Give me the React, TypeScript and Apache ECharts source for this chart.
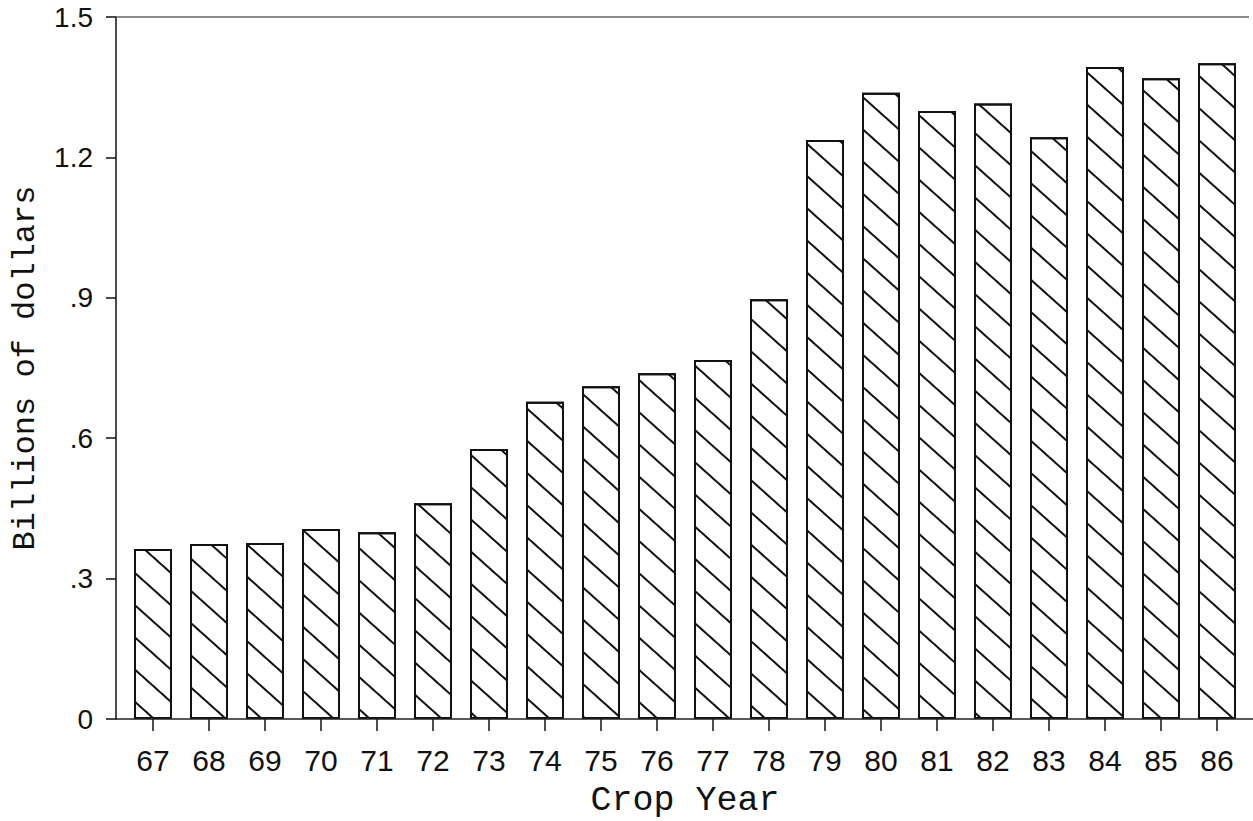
import React, { useEffect, useRef } from "react";
import * as echarts from "echarts";

const years = ["67", "68", "69", "70", "71", "72", "73", "74", "75", "76", "77", "78", "79", "80", "81", "82", "83", "84", "85", "86"];
const values = [0.363, 0.374, 0.376, 0.406, 0.399, 0.461, 0.577, 0.678, 0.711, 0.739, 0.767, 0.897, 1.237, 1.338, 1.299, 1.315, 1.243, 1.393, 1.369, 1.401];
const yMin = 0;
const yMax = 1.5;
const yStep = 0.3;
const xTitle = "Crop Year";
const yTitle = "Billions of dollars";

const W = 1253;
const H = 821;
const GRID_LEFT = 125;
const GRID_RIGHT = 8;
const GRID_TOP = 17;
const GRID_BOTTOM = 102;
const AXIS_X = 116;

export default function App() {
  const ref = useRef<HTMLDivElement>(null);
  useEffect(() => {
    if (!ref.current) return;
    const chart = echarts.init(ref.current, undefined, { renderer: "svg" });
    const baseY = H - GRID_BOTTOM;
    chart.setOption({
      animation: false,
      backgroundColor: "#ffffff",
      grid: {
        left: GRID_LEFT,
        right: GRID_RIGHT,
        top: GRID_TOP,
        bottom: GRID_BOTTOM,
        containLabel: false,
        outerBoundsMode: "none",
      },
      xAxis: {
        type: "category",
        data: years,
        boundaryGap: true,
        axisLine: { show: false },
        axisTick: { show: true, alignWithLabel: true, length: 12, lineStyle: { color: "#111", width: 1.5 } },
        axisLabel: { margin: 26, fontSize: 30, color: "#111", fontFamily: "Liberation Sans" },
        splitLine: { show: false },
        name: xTitle,
        nameLocation: "middle",
        nameGap: 64,
        nameTextStyle: { fontSize: 35, color: "#111", fontFamily: "Liberation Mono" },
      },
      yAxis: {
        type: "value",
        min: yMin,
        max: yMax,
        interval: yStep,
        offset: GRID_LEFT - AXIS_X,
        axisLine: { show: true, lineStyle: { color: "#111", width: 1.5 } },
        axisTick: { show: true, length: 10, lineStyle: { color: "#111", width: 1.5 } },
        axisLabel: {
          margin: 23,
          fontSize: 28,
          color: "#111",
          fontFamily: "Liberation Sans",
          formatter: (v: number) => {
            if (Math.abs(v) < 1e-9) return "0";
            const s = v.toFixed(1);
            return s.startsWith("0") ? s.slice(1) : s;
          },
        },
        splitLine: { show: false },
        name: yTitle,
        nameLocation: "middle",
        nameGap: 75,
        nameRotate: 90,
        nameTextStyle: { fontSize: 32, color: "#111", fontFamily: "Liberation Mono" },
      },
      graphic: [
        {
          type: "line",
          shape: { x1: AXIS_X, y1: baseY, x2: W, y2: baseY },
          style: { stroke: "#222", lineWidth: 1.5 },
          z: 10,
        },
        {
          type: "line",
          shape: { x1: AXIS_X, y1: GRID_TOP, x2: W - 4, y2: GRID_TOP },
          style: { stroke: "#666", lineWidth: 1.5 },
          z: 10,
        },
      ],
      series: [
        {
          type: "bar",
          data: values,
          barWidth: 38,
          itemStyle: {
            color: "#ffffff",
            borderColor: "#111",
            borderWidth: 2,
            decal: {
              symbol: "rect",
              symbolSize: 1,
              color: "#111",
              backgroundColor: "#ffffff",
              dashArrayX: [1, 0],
              dashArrayY: [2, 22],
              rotation: 0.73,
            },
          },
        },
      ],
    });
    return () => chart.dispose();
  }, []);
  return <div ref={ref} style={{ position: "fixed", left: 0, top: 0, width: W, height: H }} />;
}
